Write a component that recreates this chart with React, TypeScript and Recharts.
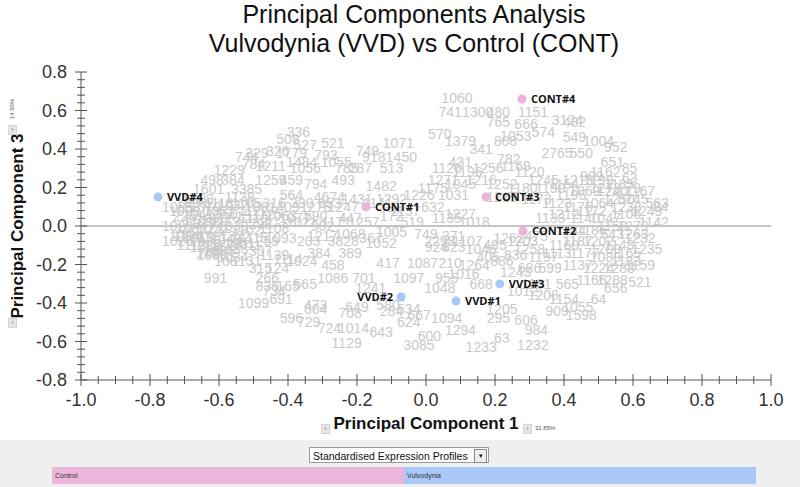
import React from "react";
import { ScatterChart, Scatter, XAxis, YAxis, ReferenceLine } from "recharts";

// sample scores (PC1 vs PC3)
const contNames = ["CONT#1", "CONT#2", "CONT#3", "CONT#4"];
const contPc1 = [-0.174, 0.281, 0.174, 0.278];
const contPc3 = [0.099, -0.026, 0.151, 0.66];

const vvdNames = ["VVD#1", "VVD#2", "VVD#3", "VVD#4"];
const vvdPc1 = [0.087, -0.072, 0.214, -0.777];
const vvdPc3 = [-0.39, -0.369, -0.301, 0.151];

// gene loadings drawn as grey labels: [label, pc1, pc3]
const genes: [string, number, number][] = [
  ["336", -0.37, 0.49], ["508", -0.4, 0.45], ["527", -0.35, 0.42], ["521", -0.27, 0.43],
  ["1071", -0.08, 0.43], ["749", -0.17, 0.39], ["9181", -0.14, 0.36], ["450", -0.06, 0.36],
  ["744", -0.52, 0.36], ["329", -0.49, 0.38], ["326", -0.43, 0.39], ["1779", -0.39, 0.38],
  ["793", -0.29, 0.37], ["1484", -0.36, 0.33], ["1055", -0.26, 0.33], ["784", -0.5, 0.32],
  ["1211", -0.45, 0.31], ["1056", -0.35, 0.3], ["785", -0.23, 0.3], ["287", -0.19, 0.3],
  ["513", -0.1, 0.3], ["1229", -0.57, 0.29], ["498", -0.62, 0.24], ["384", -0.56, 0.24],
  ["1259", -0.45, 0.24], ["459", -0.39, 0.24], ["794", -0.32, 0.22], ["493", -0.24, 0.24],
  ["1482", -0.13, 0.21], ["1601", -0.63, 0.19], ["3385", -0.52, 0.19], ["564", -0.39, 0.16],
  ["4674", -0.28, 0.15], ["590", -0.32, 0.05], ["172", -0.1, 0.05], ["1124", -0.69, -0.05],
  ["203", -0.34, -0.08], ["3828", -0.24, -0.08], ["1052", -0.13, -0.09],
  ["991", -0.61, -0.27], ["269", -0.63, -0.14], ["108", -0.58, -0.18], ["315", -0.48, -0.22],
  ["124", -0.43, -0.22], ["458", -0.27, -0.2], ["384", -0.31, -0.14], ["389", -0.22, -0.14],
  ["1086", -0.27, -0.27], ["701", -0.18, -0.27], ["1241", -0.16, -0.32], ["266", -0.46, -0.27],
  ["835", -0.46, -0.31], ["165", -0.4, -0.31], ["565", -0.35, -0.3], ["734", -0.44, -0.34],
  ["1099", -0.5, -0.4], ["691", -0.42, -0.38], ["473", -0.32, -0.41], ["604", -0.32, -0.43],
  ["649", -0.2, -0.42], ["708", -0.22, -0.45], ["596", -0.39, -0.48], ["729", -0.34, -0.5],
  ["724", -0.28, -0.53], ["1014", -0.21, -0.53], ["643", -0.13, -0.55], ["1129", -0.23, -0.61],
  ["417", -0.11, -0.19], ["580", -0.11, -0.41], ["284", -0.1, -0.44],
  ["1016", 0.11, -0.25], ["955", 0.06, -0.27], ["1097", -0.05, -0.27], ["1048", 0.04, -0.32],
  ["668", 0.16, -0.3], ["1087", -0.01, -0.19], ["210", 0.07, -0.19], ["1264", 0.14, -0.2],
  ["924", 0.03, -0.11], ["823", 0.08, -0.11], ["534", -0.05, -0.43], ["624", -0.05, -0.5],
  ["667", -0.02, -0.46], ["1094", 0.06, -0.48], ["295", 0.21, -0.48], ["606", 0.29, -0.49],
  ["1294", 0.1, -0.54], ["600", 0.01, -0.57], ["3085", -0.02, -0.62], ["1233", 0.16, -0.63],
  ["63", 0.22, -0.58], ["1232", 0.31, -0.62], ["984", 0.32, -0.54], ["565", 0.41, -0.3],
  ["521", 0.62, -0.29], ["656", 0.55, -0.32], ["64", 0.5, -0.38], ["1598", 0.45, -0.46],
  ["1205", 0.22, -0.43],
  ["1060", 0.09, 0.665], ["741", 0.07, 0.59], ["1300", 0.15, 0.59], ["480", 0.21, 0.59],
  ["1151", 0.31, 0.59], ["765", 0.21, 0.54], ["3124", 0.41, 0.55], ["482", 0.43, 0.54],
  ["666", 0.29, 0.53], ["574", 0.34, 0.49], ["1053", 0.26, 0.47], ["570", 0.04, 0.48],
  ["1379", 0.1, 0.44], ["341", 0.16, 0.4], ["808", 0.23, 0.44], ["549", 0.43, 0.46],
  ["1004", 0.5, 0.44], ["952", 0.55, 0.41], ["550", 0.45, 0.38], ["2765", 0.38, 0.38],
  ["782", 0.24, 0.35], ["431", 0.1, 0.33], ["651", 0.54, 0.33], ["85", 0.59, 0.3],
  ["63", 0.59, 0.25], ["79", 0.6, 0.2], ["563", 0.67, 0.12], ["84", 0.68, 0.1], ["8745", 0.6, 0.14],
  // dense left cluster
  ["1065", -0.72, 0.1], ["1096", -0.68, 0.12], ["1070", -0.64, 0.1], ["1118", -0.6, 0.12],
  ["1032", -0.56, 0.11], ["1105", -0.52, 0.12], ["1001", -0.48, 0.1], ["316", -0.44, 0.12],
  ["409", -0.4, 0.1], ["226", -0.7, 0.05], ["1041", -0.66, 0.06], ["1090", -0.62, 0.04],
  ["350", -0.58, 0.06], ["415", -0.54, 0.05], ["1110", -0.5, 0.04], ["1125", -0.46, 0.06],
  ["1063", -0.42, 0.05], ["1077", -0.38, 0.04], ["1020", -0.72, 0.0], ["1081", -0.68, -0.01],
  ["377", -0.64, 0.01], ["211", -0.6, -0.01], ["1039", -0.56, 0.0], ["1102", -0.52, -0.02],
  ["298", -0.48, 0.01], ["1108", -0.44, -0.01], ["1084", -0.7, -0.05], ["1013", -0.66, -0.06],
  ["1121", -0.62, -0.05], ["1049", -0.58, -0.07], ["322", -0.54, -0.05], ["1115", -0.5, -0.06],
  ["259", -0.46, -0.08], ["1093", -0.42, -0.06], ["1112", -0.68, -0.1], ["1058", -0.64, -0.11],
  ["1127", -0.6, -0.1], ["1083", -0.56, -0.12], ["1011", -0.52, -0.1], ["307", -0.48, -0.13],
  ["1139", -0.44, -0.15], ["1114", -0.4, -0.17], ["1080", -0.62, -0.15], ["1034", -0.56, -0.16],
  ["1131", -0.52, -0.18], ["1024", -0.36, -0.18],
  ["1029", -0.7, 0.08], ["1103", -0.66, 0.02], ["1072", -0.62, -0.02], ["1117", -0.58, 0.02],
  ["1036", -0.64, -0.08], ["1095", -0.6, -0.13], ["1051", -0.54, -0.09], ["1122", -0.5, 0.08],
  ["1008", -0.66, 0.14], ["1138", -0.54, 0.15], ["1067", -0.6, 0.08], ["1026", -0.72, -0.08],
  // middle band
  ["390", -0.36, 0.12], ["1276", -0.32, 0.1], ["653", -0.28, 0.12], ["1247", -0.24, 0.1],
  ["1021", -0.36, 0.02], ["902", -0.3, 0.0], ["1171", -0.26, 0.02], ["447", -0.22, 0.04],
  ["1257", -0.18, 0.02], ["1431", -0.2, 0.14], ["1141", -0.14, 0.12], ["1292", -0.1, 0.14],
  ["1217", -0.3, -0.05], ["1068", -0.22, -0.04], ["367", -0.16, -0.06], ["1005", -0.1, -0.03],
  ["519", -0.04, 0.02], ["1157", -0.06, 0.08], ["1226", -0.02, 0.16], ["1175", 0.02, 0.2],
  ["1271", 0.05, 0.24], ["632", 0.02, 0.1], ["1135", 0.06, 0.04], ["1227", 0.1, 0.06],
  ["1018", 0.14, 0.02], ["749", 0.0, -0.04], ["2298", 0.04, -0.08], ["371", 0.08, -0.05],
  ["1107", 0.12, -0.08], ["1046", 0.16, -0.12], ["495", 0.2, -0.1], ["1262", 0.24, -0.06],
  ["1203", 0.28, -0.08], ["475", 0.32, -0.05], ["1258", 0.3, -0.12], ["836", 0.26, -0.15],
  ["886", 0.22, -0.18], ["405", 0.18, -0.16], ["1197", 0.34, -0.16], ["1113", 0.38, -0.14],
  ["599", 0.36, -0.22], ["686", 0.3, -0.22], ["1243", 0.26, -0.24], ["1161", 0.32, -0.3],
  ["1012", 0.28, -0.34], ["1208", 0.34, -0.36], ["1154", 0.4, -0.38], ["909", 0.38, -0.44],
  ["1055", 0.44, -0.42],
  // dense right cluster
  ["1190", 0.36, 0.2], ["1154", 0.4, 0.22], ["1213", 0.44, 0.24], ["909", 0.48, 0.26],
  ["1162", 0.52, 0.28], ["1185", 0.56, 0.22], ["1273", 0.52, 0.2], ["1069", 0.46, 0.18],
  ["1195", 0.42, 0.16], ["1123", 0.38, 0.12], ["1176", 0.44, 0.1], ["1064", 0.5, 0.12],
  ["1250", 0.56, 0.14], ["1167", 0.62, 0.18], ["1249", 0.64, 0.08], ["1106", 0.58, 0.06],
  ["1047", 0.52, 0.04], ["1140", 0.46, 0.04], ["1212", 0.4, 0.06], ["1133", 0.36, 0.04],
  ["1144", 0.42, -0.02], ["1186", 0.48, -0.02], ["543", 0.54, -0.04], ["1279", 0.6, 0.0],
  ["1142", 0.66, 0.02], ["1232", 0.62, -0.06], ["1148", 0.56, -0.1], ["1202", 0.5, -0.08],
  ["1187", 0.44, -0.08], ["1160", 0.4, -0.1], ["1177", 0.46, -0.14], ["1089", 0.52, -0.16],
  ["1165", 0.58, -0.14], ["1235", 0.64, -0.12], ["1159", 0.62, -0.2], ["1283", 0.56, -0.22],
  ["1224", 0.5, -0.22], ["1137", 0.44, -0.2], ["1166", 0.48, -0.28], ["1288", 0.54, -0.28],
  ["1199", 0.5, 0.24], ["1238", 0.58, 0.1], ["1150", 0.54, 0.0], ["1263", 0.6, -0.04],
  ["1183", 0.58, -0.18], ["1209", 0.52, -0.12], ["1172", 0.48, 0.08], ["1240", 0.54, 0.18],
  // upper middle
  ["1126", 0.06, 0.3], ["1196", 0.12, 0.28], ["1256", 0.18, 0.3], ["1169", 0.26, 0.31],
  ["1120", 0.3, 0.28], ["1045", 0.1, 0.22], ["1216", 0.16, 0.24], ["1252", 0.22, 0.22],
  ["1180", 0.28, 0.2], ["1245", 0.34, 0.24], ["1031", 0.08, 0.16], ["1219", 0.22, 0.15],
  ["1173", 0.32, 0.14],
];

const xTickValues = Array.from({ length: 41 }, (_, i) => Number(((i - 20) * 0.05).toFixed(2)));
const yTickValues = Array.from({ length: 41 }, (_, i) => Number(((i - 20) * 0.04).toFixed(2)));

const contData = contNames.map((name, i) => ({ name, x: contPc1[i], y: contPc3[i] }));
const vvdData = vvdNames.map((name, i) => ({ name, x: vvdPc1[i], y: vvdPc3[i] }));
const geneData = genes.map(([label, x, y]) => ({ label, x, y }));

const ARIAL = "'Liberation Sans', Arial, sans-serif";
const AXIS_X = 81; // y axis line position
const AXIS_Y = 380; // x axis line position

function XTick(props: any) {
  const { x, payload } = props;
  const v = payload.value;
  const major = Math.round(v * 100) % 20 === 0;
  const len = major ? 6 : 4;
  return (
    <g>
      <line x1={x} x2={x} y1={AXIS_Y - len} y2={AXIS_Y + len} stroke="#555" strokeWidth={1} />
      {major && (
        <text x={x} y={AXIS_Y + 26} textAnchor="middle" fontFamily={ARIAL} fontSize={18} fill="#333">
          {v.toFixed(1)}
        </text>
      )}
    </g>
  );
}

function YTick(props: any) {
  const { y, payload } = props;
  const v = payload.value;
  const major = Math.round(v * 100) % 20 === 0;
  const len = major ? 6 : 4;
  return (
    <g>
      <line x1={AXIS_X - len} x2={AXIS_X + len} y1={y} y2={y} stroke="#555" strokeWidth={1} />
      {major && (
        <text x={AXIS_X - 14} y={y + 6} textAnchor="end" fontFamily={ARIAL} fontSize={18} fill="#333">
          {v.toFixed(1)}
        </text>
      )}
    </g>
  );
}

function GeneLabel(props: any) {
  const { cx, cy, payload } = props;
  return (
    <text x={cx} y={cy + 5} textAnchor="middle" fontFamily={ARIAL} fontSize={14} fill="#c9c9c9">
      {payload.label}
    </text>
  );
}

function sampleShape(color: string) {
  return (props: any) => {
    const { cx, cy, payload } = props;
    const left = payload.name === "VVD#2";
    return (
      <g>
        <circle cx={cx} cy={cy} r={4.5} fill={color} />
        <text
          x={left ? cx - 8 : cx + 9}
          y={cy + 4}
          textAnchor={left ? "end" : "start"}
          fontFamily="'Open Sans', sans-serif"
          fontWeight={700}
          fontSize={11}
          fill="#111"
        >
          {payload.name}
        </text>
      </g>
    );
  };
}

const smallBtn: React.CSSProperties = {
  position: "absolute",
  width: 7,
  height: 8,
  background: "#e6e6e6",
  border: "1px solid #d4d4d4",
  fontSize: 7,
  lineHeight: "8px",
  textAlign: "center",
  color: "#777",
  fontFamily: ARIAL,
};

export default function App() {
  return (
    <div style={{ position: "absolute", left: 0, top: 0, width: 800, height: 487, background: "#fff", overflow: "hidden" }}>
      <div
        style={{
          position: "absolute", left: 0, top: 0, width: 828, textAlign: "center",
          fontFamily: ARIAL, fontSize: 25, lineHeight: "29px", color: "#111",
        }}
      >
        Principal Components Analysis
        <br />
        Vulvodynia (VVD) vs Control (CONT)
      </div>

      <div style={{ position: "absolute", left: 0, top: 0 }}>
        <ScatterChart width={800} height={487} margin={{ top: 72, right: 29, bottom: 77, left: 21 }}>
          <XAxis
            type="number"
            dataKey="x"
            domain={[-1, 1]}
            ticks={xTickValues}
            interval={0}
            height={30}
            tickLine={false}
            axisLine={{ stroke: "#555" }}
            tick={<XTick />}
            allowDataOverflow
          />
          <YAxis
            type="number"
            dataKey="y"
            domain={[-0.8, 0.8]}
            ticks={yTickValues}
            interval={0}
            width={60}
            tickLine={false}
            axisLine={{ stroke: "#555" }}
            tick={<YTick />}
            allowDataOverflow
          />
          <ReferenceLine y={0} stroke="#888" strokeWidth={1} />
          <Scatter data={geneData} shape={<GeneLabel />} isAnimationActive={false} />
          <Scatter data={contData} shape={sampleShape("#efb3da")} isAnimationActive={false} />
          <Scatter data={vvdData} shape={sampleShape("#a8c8f8")} isAnimationActive={false} />
        </ScatterChart>
      </div>

      {/* axis titles */}
      <div style={{ position: "absolute", left: 326, top: 414, width: 200, textAlign: "center", fontFamily: ARIAL, fontWeight: 700, fontSize: 17, color: "#111", whiteSpace: "nowrap" }}>
        Principal Component 1
      </div>
      <div style={{ ...smallBtn, left: 321, top: 424 }}>‹</div>
      <div style={{ ...smallBtn, left: 523, top: 424 }}>›</div>
      <div style={{ position: "absolute", left: 535, top: 425, fontFamily: ARIAL, fontSize: 6, color: "#555" }}>32.85%</div>

      <div
        style={{
          position: "absolute", left: 18, top: 226, width: 220, marginLeft: -110, marginTop: -10,
          textAlign: "center", fontFamily: ARIAL, fontWeight: 700, fontSize: 17, lineHeight: "20px", color: "#111",
          whiteSpace: "nowrap", transform: "rotate(-90deg)",
        }}
      >
        Principal Component 3
      </div>
      <div style={{ ...smallBtn, left: 8, top: 318 }}>‹</div>
      <div style={{ ...smallBtn, left: 8, top: 125 }}>›</div>
      <div style={{ position: "absolute", left: 0, top: 106, width: 24, textAlign: "center", fontFamily: ARIAL, fontSize: 6, color: "#555", transform: "rotate(-90deg)" }}>14.50%</div>

      {/* bottom panel */}
      <div style={{ position: "absolute", left: 0, top: 440, width: 800, height: 47, background: "#efefef" }}>
        <div
          style={{
            position: "absolute", left: 309, top: 7, width: 180, height: 16, background: "#fff",
            border: "1px solid #9a9a9a", fontFamily: ARIAL, fontSize: 10.5, lineHeight: "16px",
            color: "#111", paddingLeft: 3, boxSizing: "border-box",
          }}
        >
          Standardised Expression Profiles
          <div style={{ position: "absolute", right: 1, top: 1, width: 11, height: 12, border: "1px solid #888", background: "#eee", fontSize: 7, lineHeight: "12px", textAlign: "center" }}>▾</div>
        </div>
        <div style={{ position: "absolute", left: 52, top: 27, width: 352, height: 17, background: "#ecb6da", fontFamily: ARIAL, fontSize: 7, lineHeight: "17px", paddingLeft: 3, boxSizing: "border-box", color: "#333" }}>
          Control
        </div>
        <div style={{ position: "absolute", left: 404, top: 27, width: 352, height: 17, background: "#a9c8f8", fontFamily: ARIAL, fontSize: 7, lineHeight: "17px", paddingLeft: 3, boxSizing: "border-box", color: "#333" }}>
          Vulvodynia
        </div>
      </div>
    </div>
  );
}
